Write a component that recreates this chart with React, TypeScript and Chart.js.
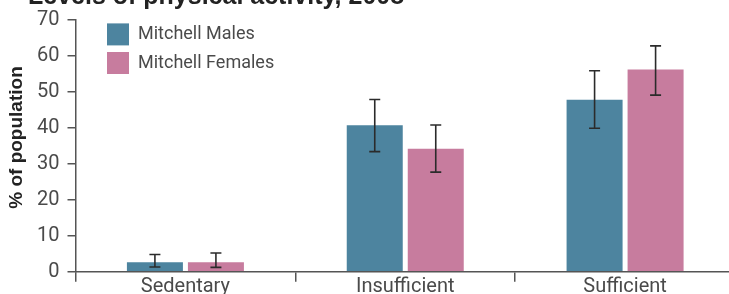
import React, { useEffect, useRef } from "react";
import { Chart, registerables } from "chart.js";

Chart.register(...registerables);

const titleText = "Levels of physical activity, 2008";
const yAxisTitle = "% of population";
const categories = ["Sedentary", "Insufficient", "Sufficient"];
const seriesNames = ["Mitchell Males", "Mitchell Females"];
const malesValues = [2.6, 40.7, 47.8];
const femalesValues = [2.6, 34.2, 56.2];
const malesLower = [1.3, 33.4, 39.9];
const malesUpper = [4.8, 47.9, 55.9];
const femalesLower = [1.2, 27.7, 49.1];
const femalesUpper = [5.2, 40.8, 62.8];
const yMin = 0;
const yMax = 70;
const yStep = 10;

const COLORS = ["#4D849F", "#C77C9E"];
const AXIS = "#555555";
const TEXT = "#4a4a4a";

export default function App() {
  const ref = useRef<HTMLCanvasElement | null>(null);

  useEffect(() => {
    const canvas = ref.current;
    if (!canvas) return;
    const lows = [malesLower, femalesLower];
    const highs = [malesUpper, femalesUpper];

    const errorBars = {
      id: "errorBars",
      afterDatasetsDraw(chart: any) {
        const ctx = chart.ctx;
        const y = chart.scales.y;
        ctx.save();
        ctx.strokeStyle = "#2b2b2b";
        ctx.lineWidth = 1.6;
        chart.data.datasets.forEach((_: any, i: number) => {
          const meta = chart.getDatasetMeta(i);
          meta.data.forEach((bar: any, j: number) => {
            const x = bar.x;
            const yl = y.getPixelForValue(lows[i][j]);
            const yh = y.getPixelForValue(highs[i][j]);
            ctx.beginPath();
            ctx.moveTo(x, yl);
            ctx.lineTo(x, yh);
            ctx.moveTo(x - 5.5, yl);
            ctx.lineTo(x + 5.5, yl);
            ctx.moveTo(x - 5.5, yh);
            ctx.lineTo(x + 5.5, yh);
            ctx.stroke();
          });
        });
        ctx.restore();
      },
    };

    const texts = {
      id: "texts",
      afterDraw(chart: any) {
        const ctx = chart.ctx;
        ctx.save();
        ctx.fillStyle = "#222222";
        ctx.font = "bold 25px 'Liberation Sans', Arial, sans-serif";
        ctx.textAlign = "left";
        ctx.textBaseline = "alphabetic";
        ctx.fillText(titleText, 28, 4);
        ctx.save();
        ctx.translate(17, 137.5);
        ctx.rotate(-Math.PI / 2);
        ctx.font = "bold 19px 'Liberation Sans', Arial, sans-serif";
        ctx.textAlign = "center";
        ctx.textBaseline = "middle";
        ctx.fillText(yAxisTitle, 0, 0);
        ctx.restore();
        chart.data.datasets.forEach((ds: any, i: number) => {
          const top = 23.4 + i * 28.6;
          ctx.fillStyle = ds.backgroundColor;
          ctx.fillRect(107, top, 22, 22);
          ctx.fillStyle = TEXT;
          ctx.font = "18px Roboto, sans-serif";
          ctx.textAlign = "left";
          ctx.textBaseline = "middle";
          ctx.fillText(ds.label, 138, top + 11.5);
        });
        ctx.restore();
      },
    };

    const chart = new Chart(canvas, {
      type: "bar",
      data: {
        labels: categories,
        datasets: [
          {
            label: seriesNames[0],
            data: malesValues,
            backgroundColor: COLORS[0],
            borderWidth: 0,
            categoryPercentage: 0.555,
            barPercentage: 0.918,
          },
          {
            label: seriesNames[1],
            data: femalesValues,
            backgroundColor: COLORS[1],
            borderWidth: 0,
            categoryPercentage: 0.555,
            barPercentage: 0.918,
          },
        ],
      },
      options: {
        responsive: false,
        animation: false,
        devicePixelRatio: 1,
        layout: { padding: { top: 14.3, right: 5, bottom: 0, left: 0 } },
        plugins: {
          legend: { display: false },
          tooltip: { enabled: false },
          title: { display: false },
        },
        scales: {
          x: {
            type: "category",
            offset: true,
            grid: {
              offset: true,
              drawOnChartArea: false,
              drawTicks: true,
              tickLength: 10,
              color: AXIS,
              lineWidth: 1.5,
            },
            border: { display: true, color: AXIS, width: 1.5 },
            ticks: {
              color: TEXT,
              font: { family: "Roboto, sans-serif", size: 20 },
              padding: -7,
              maxRotation: 0,
              autoSkip: false,
            },
            afterFit: (s: any) => {
              s.height = 22.3;
            },
          },
          y: {
            min: yMin,
            max: yMax,
            grid: {
              drawOnChartArea: false,
              drawTicks: true,
              tickLength: 8,
              color: AXIS,
              lineWidth: 1.5,
            },
            border: { display: true, color: AXIS, width: 1.5 },
            ticks: {
              stepSize: yStep,
              color: TEXT,
              font: { family: "Roboto, sans-serif", size: 20 },
              padding: 8,
            },
            afterFit: (s: any) => {
              s.width = 75.5;
            },
          },
        },
      },
      plugins: [errorBars, texts],
    });

    return () => chart.destroy();
  }, []);

  return (
    <div
      style={{
        position: "fixed",
        left: 0,
        top: 0,
        width: 729,
        height: 294,
        overflow: "hidden",
        background: "#fff",
      }}
    >
      <canvas
        ref={ref}
        width={740}
        height={294}
        style={{ position: "absolute", left: 0, top: 0, width: 740, height: 294 }}
      />
    </div>
  );
}
